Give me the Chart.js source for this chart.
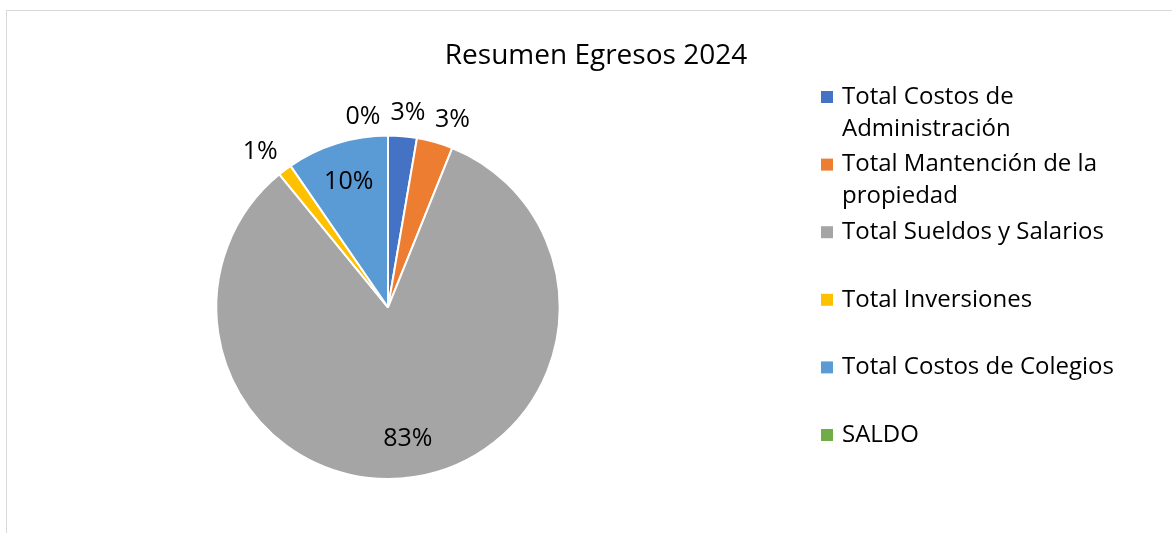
<!DOCTYPE html>
<html>
<head>
<meta charset="utf-8">
<title>Resumen Egresos 2024</title>
<script src="https://cdn.jsdelivr.net/npm/chart.js@4.4.1/dist/chart.umd.min.js"></script>
<style>
  body { margin: 0; background: #fff; }
  #frame { position: absolute; left: 6px; top: 10px; width: 1200px; height: 600px;
           border-left: 1px solid #d9d9d9; border-top: 1px solid #d9d9d9; }
  #myChart { position: absolute; left: 0; top: 0; }
</style>
</head>
<body>
<div id="frame"></div>
<canvas id="myChart" width="1172" height="533"></canvas>
<script>
var categories = ['Total Costos de Administración', 'Total Mantención de la propiedad',
  'Total Sueldos y Salarios', 'Total Inversiones', 'Total Costos de Colegios', 'SALDO'];
var shares = [2.7, 3.4, 83.0, 1.3, 9.6, 0];
var colors = ['#4472C4', '#ED7D31', '#A5A5A5', '#FFC000', '#5B9BD5', '#70AD47'];

var font = "'Open Sans', sans-serif";

function wrapText(ctx, text, maxWidth) {
  var words = text.split(' ');
  var lines = [];
  var line = '';
  words.forEach(function(word) {
    var test = line ? line + ' ' + word : word;
    if (line && ctx.measureText(test).width > maxWidth) {
      lines.push(line);
      line = word;
    } else {
      line = test;
    }
  });
  lines.push(line);
  return lines;
}

// legend on the right, as its own layout box so the pie keeps to the left
var sideLegend = {
  id: 'sideLegend',
  beforeInit: function(chart) {
    var box = {
      position: 'right',
      weight: 0,
      fullSize: true,
      options: {},
      isHorizontal: function() { return false; },
      update: function(maxWidth, maxHeight) {
        this.width = 416;
        this.height = maxHeight;
      },
      draw: function() {
        var ctx = chart.ctx;
        var x = this.left + 65;
        ctx.save();
        ctx.font = '24px ' + font;
        ctx.textAlign = 'left';
        ctx.textBaseline = 'middle';
        categories.forEach(function(name, i) {
          var y = box.top + 97 + i * 67.6;
          ctx.fillStyle = colors[i];
          ctx.fillRect(x, y - 6, 12, 12);
          ctx.fillStyle = '#000';
          wrapText(ctx, name, 300).forEach(function(line, k) {
            ctx.fillText(line, x + 21, y + k * 32);
          });
        });
        ctx.restore();
      }
    };
    Chart.layouts.addBox(chart, box);
  }
};

// percentage labels, inside big slices and outside small ones
var pieLabels = {
  id: 'pieLabels',
  afterDatasetsDraw: function(chart) {
    var ctx = chart.ctx;
    var arcs = chart.getDatasetMeta(0).data;
    var total = shares.reduce(function(a, b) { return a + b; }, 0);
    var placed = [];
    ctx.save();
    ctx.font = '25px ' + font;
    ctx.fillStyle = '#000';
    ctx.textAlign = 'center';
    ctx.textBaseline = 'middle';
    arcs.forEach(function(arc, i) {
      var p = arc.getProps(['x', 'y', 'startAngle', 'endAngle', 'outerRadius'], true);
      var mid = (p.startAngle + p.endAngle) / 2;
      var pct = Math.round(shares[i] / total * 100);
      var text = pct + '%';
      var w = ctx.measureText(text).width;
      var h = 24;
      var dx = Math.cos(mid), dy = Math.sin(mid);
      var cx, cy;
      if (pct >= 5) {
        cx = p.x + dx * p.outerRadius * 0.77;
        cy = p.y + dy * p.outerRadius * 0.77;
      } else {
        var r = p.outerRadius + 12;
        cx = p.x + dx * r + w / 2 * Math.max(-1, Math.min(1, dx * 3));
        cy = p.y + dy * r + h / 2 * dy;
        // move a label left when it sits on top of one already drawn
        placed.forEach(function(o) {
          if (Math.abs(cx - o.x) < (w + o.w) / 2 && Math.abs(cy - o.y) < h) {
            cx = o.x - o.w / 2 - 10 - w / 2;
            cy += 4;
          }
        });
        placed.push({x: cx, y: cy, w: w});
      }
      ctx.fillText(text, cx, cy + 1);
    });
    ctx.restore();
  }
};

var ctx = document.getElementById('myChart').getContext('2d');
var myChart = new Chart(ctx, {
  type: 'pie',
  data: {
    labels: categories,
    datasets: [{
      data: shares,
      backgroundColor: colors,
      borderColor: '#ffffff',
      borderWidth: 2
    }]
  },
  options: {
    responsive: false,
    animation: false,
    layout: {
      padding: {top: 0, left: 20, right: 0, bottom: 53}
    },
    plugins: {
      legend: { display: false },
      tooltip: { enabled: false },
      title: {
        display: true,
        text: 'Resumen Egresos 2024',
        color: '#000',
        font: { family: font, size: 28, weight: 'normal' },
        padding: { top: 39, bottom: 62 }
      }
    }
  },
  plugins: [sideLegend, pieLabels]
});
</script>
</body>
</html>
